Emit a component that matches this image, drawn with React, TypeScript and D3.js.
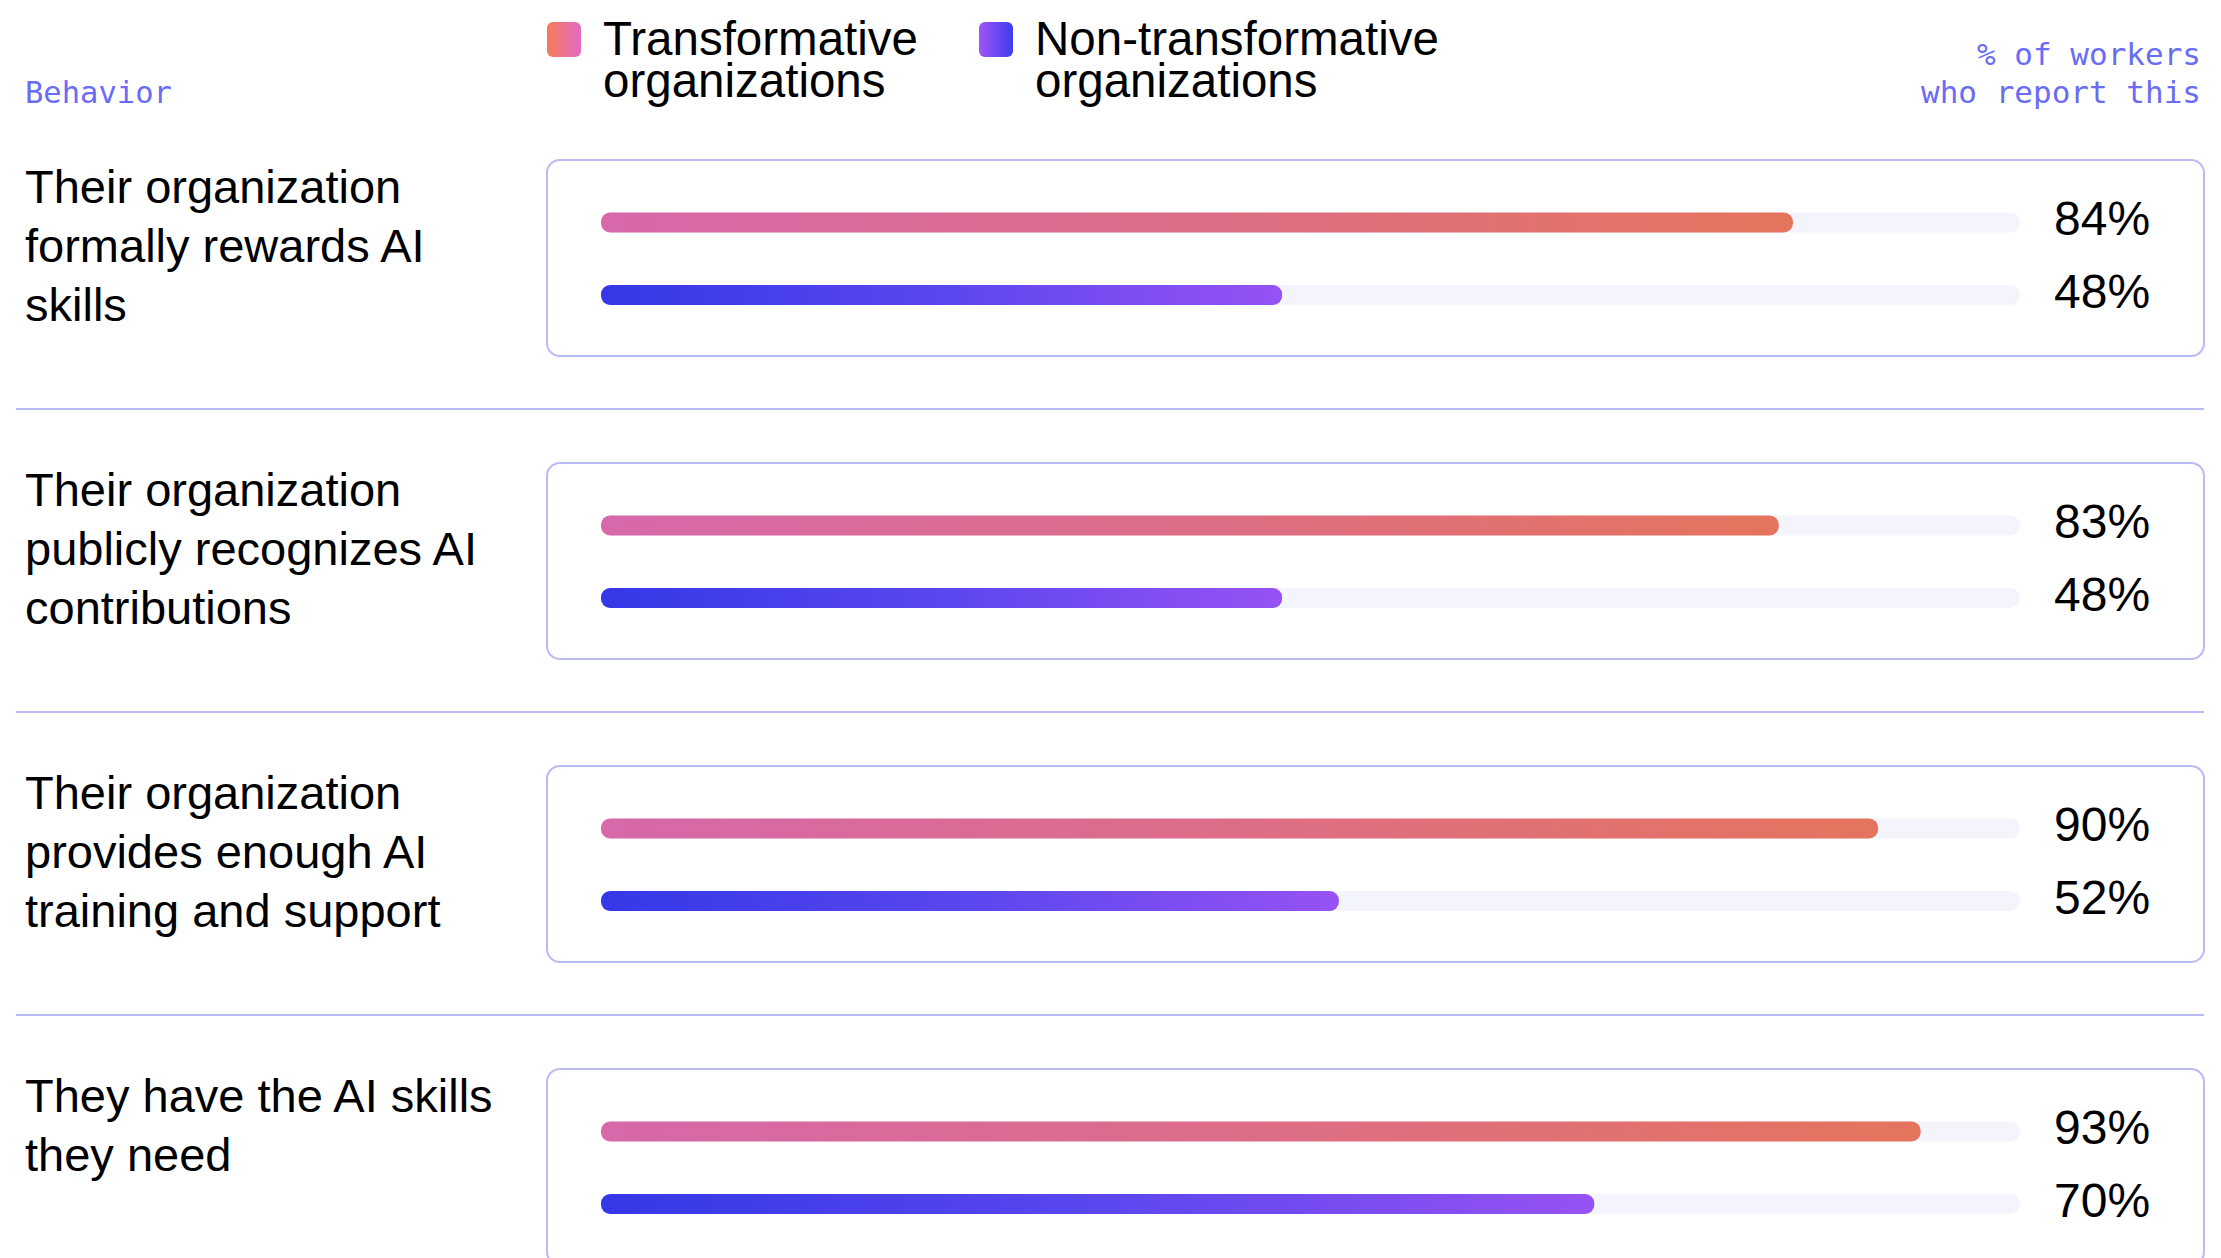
import React from "react";
import * as d3 from "d3";

// Survey rows: behavior statements (pre-wrapped) and the share of workers reporting them
const behaviorLines: string[][] = [
  ["Their organization", "formally rewards AI", "skills"],
  ["Their organization", "publicly recognizes AI", "contributions"],
  ["Their organization", "provides enough AI", "training and support"],
  ["They have the AI skills", "they need"],
];
const behaviorKeys = ["rewards", "recognizes", "training", "skills"];
const transformative = [84, 83, 90, 93];
const nonTransformative = [48, 48, 52, 70];

const seriesNames = ["Transformative", "Non-transformative"];
const axisTitleLines = ["% of workers", "who report this"];
const columnTitle = "Behavior";

const W = 2221;
const H = 1258;

const SANS = "'Liberation Sans', Arial, Helvetica, sans-serif";
const MONO = "'DejaVu Sans Mono', 'Liberation Mono', monospace";
const ACCENT = "#6a6cf5";
const LINE = "#b9bbf6";

export default function App() {
  const x = d3.scaleLinear().domain([0, 100]).range([601, 2020]);
  const rowStep = 303;
  const y = d3
    .scaleBand<string>()
    .domain(behaviorKeys)
    .range([160, 160 + rowStep * behaviorKeys.length])
    .paddingInner(0)
    .paddingOuter(0);

  const boxLeft = 547;
  const boxRight = 2204;
  const boxH = 196;
  const barH = 20;
  const barOffsets = [62.5, 135];

  return (
    <svg
      width={W}
      height={H}
      viewBox={`0 0 ${W} ${H}`}
      style={{ position: "absolute", left: 0, top: 0, background: "#fff" }}
    >
      <defs>
        <linearGradient id="gradT" x1="0" x2="1" y1="0" y2="0">
          <stop offset="0" stopColor="#d768aa" />
          <stop offset="0.5" stopColor="#dd6d86" />
          <stop offset="1" stopColor="#e5745d" />
        </linearGradient>
        <linearGradient id="gradN" x1="0" x2="1" y1="0" y2="0">
          <stop offset="0" stopColor="#3538e7" />
          <stop offset="0.5" stopColor="#5a47ee" />
          <stop offset="1" stopColor="#9752f5" />
        </linearGradient>
        <linearGradient id="swT" x1="0" x2="1" y1="0" y2="0">
          <stop offset="0" stopColor="#f67a58" />
          <stop offset="1" stopColor="#e46ac6" />
        </linearGradient>
        <linearGradient id="swN" x1="0" x2="1" y1="0" y2="0">
          <stop offset="0" stopColor="#a055f6" />
          <stop offset="1" stopColor="#3c3ef0" />
        </linearGradient>
      </defs>

      {/* Header */}
      <text x={25} y={103} fontFamily={MONO} fontSize={30.5} fill={ACCENT}>
        {columnTitle}
      </text>
      {axisTitleLines.map((t, i) => (
        <text
          key={t}
          x={2201}
          y={65 + i * 38}
          textAnchor="end"
          fontFamily={MONO}
          fontSize={31}
          fill={ACCENT}
        >
          {t}
        </text>
      ))}

      {/* Legend */}
      {seriesNames.map((name, i) => {
        const sx = i === 0 ? 547 : 979;
        return (
          <g key={name}>
            <rect x={sx} y={22} width={34} height={35} rx={6} fill={i === 0 ? "url(#swT)" : "url(#swN)"} />
            <text x={sx + 56} y={55} fontFamily={SANS} fontSize={47.5} fill="#000">
              {name}
            </text>
            <text x={sx + 56} y={97} fontFamily={SANS} fontSize={47.5} fill="#000">
              organizations
            </text>
          </g>
        );
      })}

      {/* Rows */}
      {behaviorKeys.map((key, i) => {
        const top = y(key)!;
        const vals = [transformative[i], nonTransformative[i]];
        return (
          <g key={key}>
            {behaviorLines[i].map((ln, j) => (
              <text
                key={j}
                x={25}
                y={top + 42.5 + j * 59}
                fontFamily={SANS}
                fontSize={47}
                fill="#000"
              >
                {ln}
              </text>
            ))}
            <rect
              x={boxLeft}
              y={top}
              width={boxRight - boxLeft}
              height={boxH}
              rx={13}
              fill="#fff"
              stroke={LINE}
              strokeWidth={2}
            />
            {vals.map((v, k) => {
              const cy = top + barOffsets[k];
              return (
                <g key={k}>
                  <rect
                    x={x(0)}
                    y={cy - barH / 2}
                    width={x(100) - x(0)}
                    height={barH}
                    rx={barH / 2}
                    fill="#f4f4fd"
                  />
                  <rect
                    x={x(0)}
                    y={cy - barH / 2}
                    width={x(v) - x(0)}
                    height={barH}
                    rx={9}
                    fill={k === 0 ? "url(#gradT)" : "url(#gradN)"}
                  />
                  <text x={2054} y={cy + 12.5} fontFamily={SANS} fontSize={48} fill="#000">
                    {`${v}%`}
                  </text>
                </g>
              );
            })}
            {i < behaviorKeys.length - 1 && (
              <line
                x1={16}
                x2={boxRight}
                y1={top + 249}
                y2={top + 249}
                stroke={LINE}
                strokeWidth={2}
              />
            )}
          </g>
        );
      })}
    </svg>
  );
}
